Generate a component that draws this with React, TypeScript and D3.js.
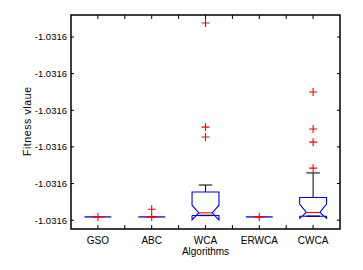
import React, { useEffect, useRef } from 'react';
import * as d3 from 'd3';

// offsets above the best value, in units of one y tick step
const algorithms = ['GSO', 'ABC', 'WCA', 'ERWCA', 'CWCA'];
const q1Values = [0.09, 0.09, 0.13, 0.09, 0.11];
const medianValues = [0.09, 0.09, 0.2, 0.09, 0.21];
const q3Values = [0.09, 0.09, 0.77, 0.09, 0.62];
const whiskerHigh = [0.09, 0.09, 0.96, 0.09, 1.29];
const notchLow = [0.09, 0.09, 0.01, 0.09, 0.05];
const notchHigh = [0.09, 0.09, 0.41, 0.09, 0.44];
const outliers = [[0.09], [0.09, 0.3], [5.38, 2.54, 2.27], [0.09], [3.5, 2.49, 2.13, 1.42]];
const yTicks = [0, 1, 2, 3, 4, 5];
const yTickLabels = ['-1.0316', '-1.0316', '-1.0316', '-1.0316', '-1.0316', '-1.0316'];

const App: React.FC = () => {
  const svgRef = useRef<SVGSVGElement>(null);

  useEffect(() => {
    if (!svgRef.current) return;
    const margin = { top: 15, right: 23, bottom: 41, left: 71 };
    const W = 363;
    const H = 270;
    const width = W - margin.left - margin.right;
    const height = H - margin.top - margin.bottom;

    const root = d3.select(svgRef.current);
    root.selectAll('*').remove();
    root.append('rect').attr('width', W).attr('height', H).attr('fill', '#fff');
    const svg = root.append('g').attr('transform', `translate(${margin.left},${margin.top})`);

    const x = d3.scaleLinear().domain([0.5, 5.5]).range([0, width]);
    const y = d3.scaleLinear().domain([-0.24, 5.6]).range([height, 0]);
    const font = 'Liberation Sans, Arial, sans-serif';

    const halfW = x(1.25) - x(1);
    const notchW = halfW * 0.5;

    algorithms.forEach((name, i) => {
      const cx = x(i + 1);
      const g = svg.append('g');
      const flat = q3Values[i] === q1Values[i];
      if (flat) {
        g.append('line')
          .attr('x1', cx - halfW).attr('x2', cx + halfW)
          .attr('y1', y(q1Values[i])).attr('y2', y(q1Values[i]))
          .attr('stroke', '#0000ff').attr('stroke-width', 1.3);
      } else {
        // whisker
        g.append('line')
          .attr('x1', cx).attr('x2', cx)
          .attr('y1', y(q3Values[i])).attr('y2', y(whiskerHigh[i]))
          .attr('stroke', '#000').attr('stroke-width', 1);
        g.append('line')
          .attr('x1', cx - notchW).attr('x2', cx + notchW)
          .attr('y1', y(whiskerHigh[i])).attr('y2', y(whiskerHigh[i]))
          .attr('stroke', '#222').attr('stroke-width', 1.2);
        const pts: [number, number][] = [
          [cx - halfW, y(q1Values[i])],
          [cx - halfW, y(notchLow[i])],
          [cx - notchW, y(medianValues[i])],
          [cx - halfW, y(notchHigh[i])],
          [cx - halfW, y(q3Values[i])],
          [cx + halfW, y(q3Values[i])],
          [cx + halfW, y(notchHigh[i])],
          [cx + notchW, y(medianValues[i])],
          [cx + halfW, y(notchLow[i])],
          [cx + halfW, y(q1Values[i])],
          [cx - halfW, y(q1Values[i])],
        ];
        g.append('path')
          .attr('d', d3.line()(pts))
          .attr('fill', 'none').attr('stroke', '#0000ff').attr('stroke-width', 1.1);
        g.append('line')
          .attr('x1', cx - notchW).attr('x2', cx + notchW)
          .attr('y1', y(q1Values[i])).attr('y2', y(q1Values[i]))
          .attr('stroke', '#000080').attr('stroke-width', 1.4);
      }
      // median
      g.append('line')
        .attr('x1', cx - notchW).attr('x2', cx + notchW)
        .attr('y1', y(medianValues[i])).attr('y2', y(medianValues[i]))
        .attr('stroke', '#ff0000').attr('stroke-width', 1.1);
      // outliers
      outliers[i].forEach((v) => {
        const oy = y(v);
        g.append('path')
          .attr('d', `M${cx - 4},${oy}H${cx + 4}M${cx},${oy - 4}V${oy + 4}`)
          .attr('stroke', '#ff0000').attr('stroke-width', 1.1).attr('fill', 'none');
      });
    });

    // frame
    svg.append('rect')
      .attr('width', width).attr('height', height)
      .attr('fill', 'none').attr('stroke', '#000').attr('stroke-width', 1.5);

    const xTicks = d3.range(1, 11).map((k) => 0.5 + k * 0.5).filter((v) => v < 5.5);
    xTicks.forEach((t) => {
      svg.append('line').attr('x1', x(t)).attr('x2', x(t)).attr('y1', 0).attr('y2', 4).attr('stroke', '#000');
      svg.append('line').attr('x1', x(t)).attr('x2', x(t)).attr('y1', height).attr('y2', height - 4).attr('stroke', '#000');
    });
    yTicks.forEach((t, i) => {
      svg.append('line').attr('x1', 0).attr('x2', 3).attr('y1', y(t)).attr('y2', y(t)).attr('stroke', '#000');
      svg.append('line').attr('x1', width).attr('x2', width - 3).attr('y1', y(t)).attr('y2', y(t)).attr('stroke', '#000');
      svg.append('text')
        .attr('x', -4).attr('y', y(t)).attr('dy', '0.35em')
        .attr('text-anchor', 'end').attr('font-family', font).attr('font-size', 9.5)
        .text(yTickLabels[i]);
    });

    algorithms.forEach((name, i) => {
      svg.append('text')
        .attr('x', x(i + 1)).attr('y', height + 15)
        .attr('text-anchor', 'middle').attr('font-family', font).attr('font-size', 10)
        .text(name);
    });

    svg.append('text')
      .attr('x', width / 2).attr('y', height + 26)
      .attr('text-anchor', 'middle').attr('font-family', font).attr('font-size', 10)
      .text('Algorithms');

    svg.append('text')
      .attr('transform', `translate(${-40},${y(2.7)}) rotate(-90)`)
      .attr('text-anchor', 'middle').attr('font-family', font).attr('font-size', 10.5)
      .attr('letter-spacing', 0.6)
      .text('Fitness vlaue');
  }, []);

  return <svg ref={svgRef} width={363} height={270} style={{ position: 'absolute', left: 0, top: 0 }} />;
};

export default App;
